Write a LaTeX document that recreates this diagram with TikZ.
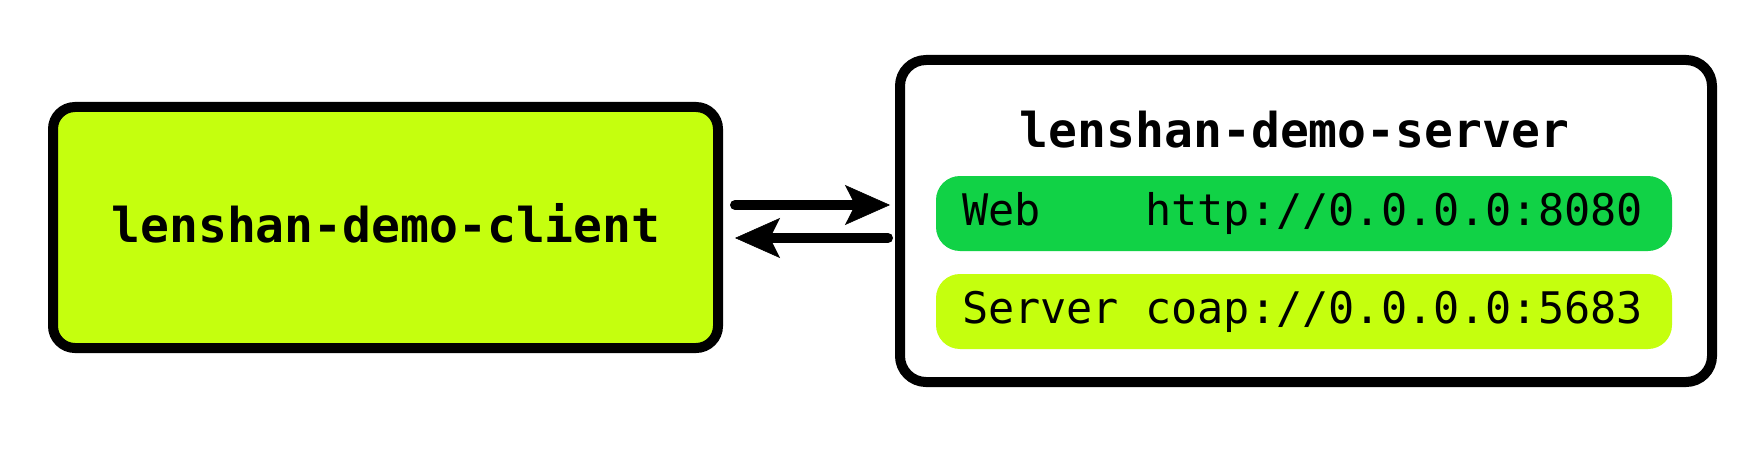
\documentclass[tikz,border=0pt]{standalone}
\usepackage{fontspec}
\setmonofont{DejaVu Sans Mono}
\usetikzlibrary{arrows.meta}
\definecolor{lime}{RGB}{197,255,14}
\definecolor{webgreen}{RGB}{17,210,70}
\newcommand{\monosp}[1]{\hspace*{#1\fontcharwd\font`0}}
\tikzset{
  bigbox/.style={draw=black, line width=10pt, rounded corners=22pt, inner sep=0pt},
  bar/.style={rounded corners=24pt, minimum height=75pt, inner xsep=26pt, inner ysep=0pt,
    text width=684pt, align=left, font=\fontsize{43.5}{50}\selectfont\ttfamily},
  title/.style={font=\fontsize{48}{56}\selectfont\ttfamily\bfseries, anchor=base, inner sep=0pt},
  arr/.style={line width=10pt, line cap=round, -{Stealth[length=45pt,width=40pt,inset=10pt,line width=0.5pt]}}
}
\begin{document}
\begin{tikzpicture}[x=1pt,y=1pt]
\useasboundingbox[fill=white] (0,0) rectangle (1763,448);
\node[bigbox, fill=lime, minimum width=665pt, minimum height=241pt] (client) at (385.5,220.5) {};
\node[title] (clientlbl) at (386,206) {lenshan-demo-client};
\node[bigbox, fill=white, minimum width=812pt, minimum height=322pt, rounded corners=26pt] (server) at (1306,227) {};
\node[title] (serverlbl) at (1294.5,301) {lenshan-demo-server};
\node[bar, fill=webgreen] (web) at (1304,234.5) {Web\monosp{4}http://0.0.0.0:8080};
\node[bar, fill=lime] (coap) at (1304,136.5) {Server\monosp{1}coap://0.0.0.0:5683};
\draw[arr] ([xshift=12pt,yshift=22.5pt]client.east) -- ([xshift=-5pt,yshift=16pt]server.west);
\draw[arr] ([xshift=-7pt,yshift=-17pt]server.west) -- ([xshift=12pt,yshift=-10.5pt]client.east);
\end{tikzpicture}
\end{document}
